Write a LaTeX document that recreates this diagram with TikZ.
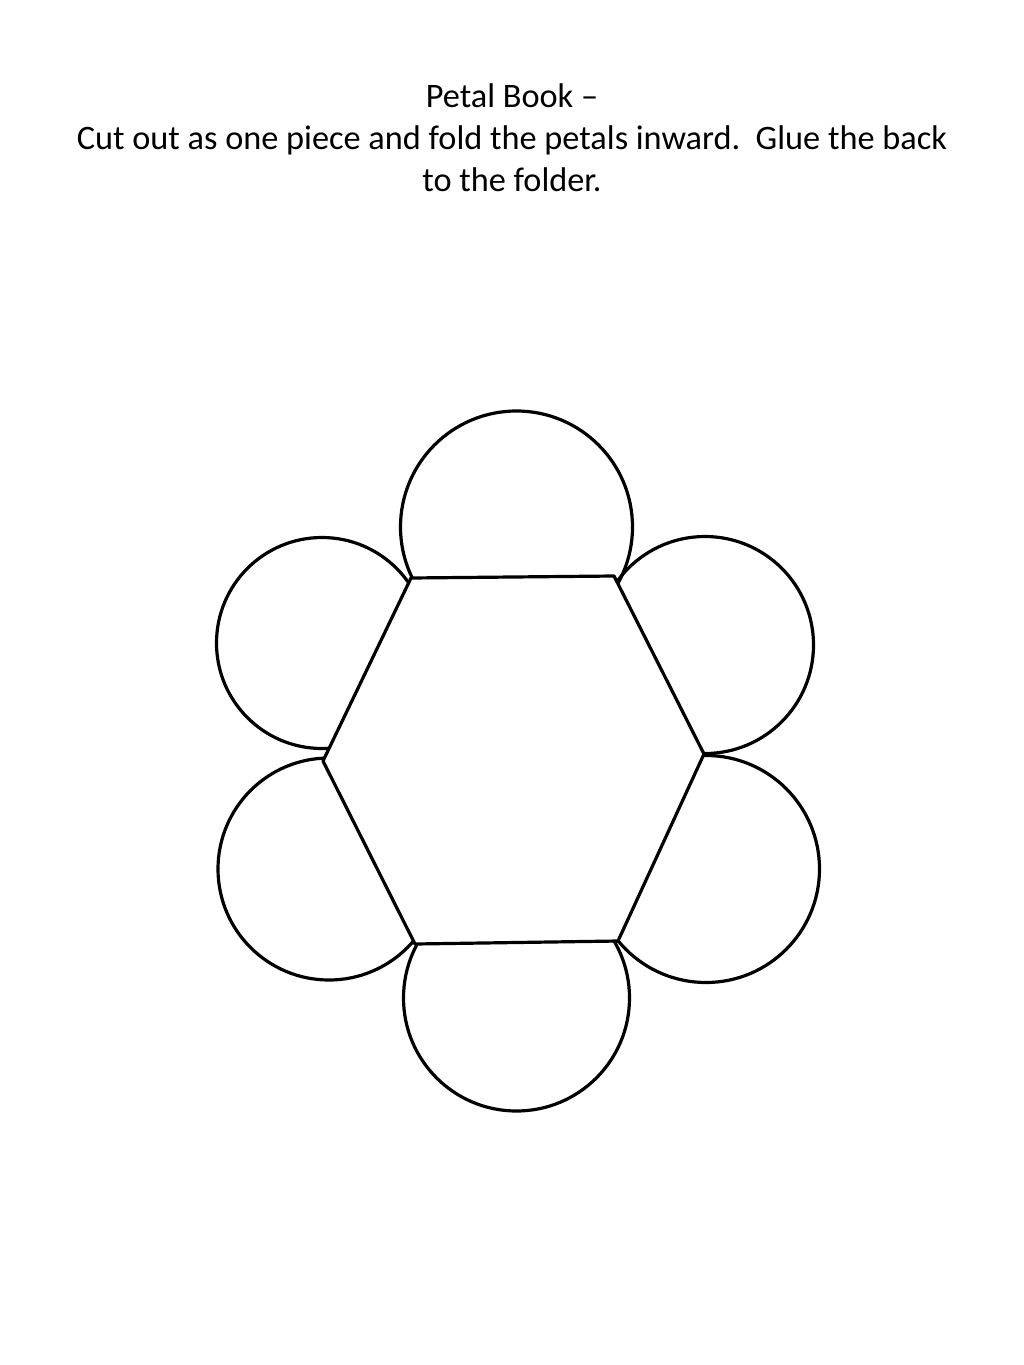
\documentclass[tikz,border=0pt]{standalone}
\usepackage{fontspec}
\setmainfont{Carlito}
\begin{document}
\begin{tikzpicture}[x=1pt,y=-1pt,
  outline/.style={line width=3.2pt, line join=round, black},
  title/.style={font=\fontsize{34.3}{41}\selectfont, inner sep=0pt, anchor=base}]
\useasboundingbox[fill=white] (0,0) rectangle (1024,1365);
\node[title] (t1) at (512,107) {Petal Book –};
\node[title] (t2) at (512,149) {Cut out as one piece and fold the petals inward.\ \ Glue the back};
\node[title] (t3) at (512,191) {to the folder.};
% hexagon vertices
\coordinate (A) at (411,578);
\coordinate (B) at (614,576);
\coordinate (C) at (704,754);
\coordinate (D) at (618,941);
\coordinate (E) at (415,944);
\coordinate (F) at (323,761);
\begin{scope}[even odd rule]
  \clip (0,0) rectangle (1024,1365) (A) -- (B) -- (C) -- (D) -- (E) -- (F) -- cycle;
  \draw[outline] (516.5,527) circle[radius=116pt];
  \draw[outline] (322,643) circle[radius=105.5pt];
  \draw[outline] (705,645) circle[radius=108.5pt];
  \draw[outline] (329,869) circle[radius=111pt];
  \draw[outline] (706,869) circle[radius=113.5pt];
  \draw[outline] (516.5,998) circle[radius=113pt];
\end{scope}
\draw[outline] (A) -- (B) -- (C) -- (D) -- (E) -- (F) -- cycle;
\end{tikzpicture}
\end{document}
